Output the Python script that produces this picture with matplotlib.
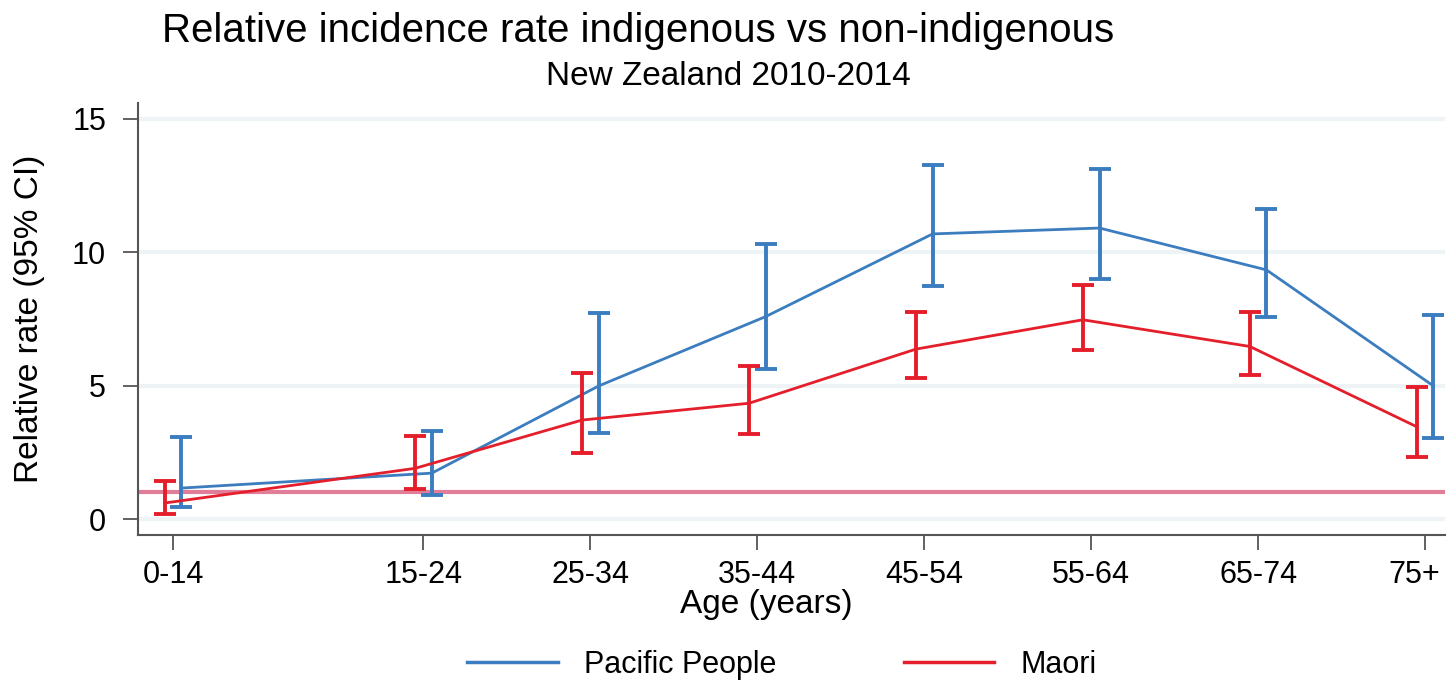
import matplotlib
matplotlib.use('Agg')
import matplotlib.pyplot as plt
import matplotlib.transforms as mtransforms
from matplotlib.lines import Line2D
import numpy as np

plt.rcParams['font.family'] = ['Liberation Sans', 'DejaVu Sans']

# age groups and their positions on the x axis (0-14 band is wider)
age_groups = ['0-14', '15-24', '25-34', '35-44', '45-54', '55-64', '65-74', '75+']
age_pos = [0, 1.5, 2.5, 3.5, 4.5, 5.5, 6.5, 7.5]

# Pacific People: relative rate and 95% CI
pac_rr = [1.16, 1.72, 4.99, 7.59, 10.69, 10.91, 9.34, 4.99]
pac_lo = [0.46, 0.90, 3.21, 5.63, 8.72, 8.99, 7.57, 3.03]
pac_hi = [3.09, 3.31, 7.74, 10.31, 13.28, 13.12, 11.62, 7.65]

# Maori: relative rate and 95% CI
mao_rr = [0.60, 1.90, 3.71, 4.34, 6.37, 7.47, 6.47, 3.46]
mao_lo = [0.19, 1.12, 2.49, 3.19, 5.28, 6.34, 5.40, 2.31]
mao_hi = [1.44, 3.13, 5.47, 5.75, 7.78, 8.78, 7.78, 4.94]

blue = '#3b7dbf'
red = '#e41f2b'
pink = '#e07d98'

fig = plt.figure(figsize=(14.48, 6.86), dpi=100)
ax = fig.add_axes([0.0953, 0.2201, 0.9027, 0.6298])

x = np.array(age_pos)
dodge = 0.05

# light horizontal grid
for yv in [0, 5, 10, 15]:
    ax.axhline(yv, color='#eef4f5', lw=3, zorder=0)

# reference line at 1
ax.axhline(1, color=pink, lw=3, zorder=1)

pac_rr = np.array(pac_rr)
mao_rr = np.array(mao_rr)
ax.errorbar(x + dodge, pac_rr,
            yerr=[pac_rr - np.array(pac_lo), np.array(pac_hi) - pac_rr],
            color=blue, lw=2, elinewidth=2.8, capsize=8, capthick=2.8,
            label='Pacific People', zorder=3)
ax.errorbar(x - dodge, mao_rr,
            yerr=[mao_rr - np.array(mao_lo), np.array(mao_hi) - mao_rr],
            color=red, lw=2, elinewidth=2.8, capsize=8, capthick=2.8,
            label='Maori', zorder=4)

ax.set_xlim(-0.21, 7.62)
ax.set_ylim(-0.6, 15.6)
ax.set_xticks(age_pos)
ax.set_xticklabels(age_groups)
ax.set_yticks([0, 5, 10, 15])

for side in ['top', 'right']:
    ax.spines[side].set_visible(False)
for side in ['left', 'bottom']:
    ax.spines[side].set_color('#555555')
    ax.spines[side].set_linewidth(1.5)

ax.tick_params(axis='both', colors='#555555', labelcolor='black',
               labelsize=22, length=11, width=1.3)
ax.tick_params(axis='y', pad=12)
ax.tick_params(axis='x', pad=7)

# last label sits inside the figure edge
last = ax.get_xticklabels()[-1]
last.set_transform(last.get_transform() +
                   mtransforms.ScaledTranslation(-0.11, 0, fig.dpi_scale_trans))

ax.set_xlabel('Age (years)', fontsize=24)
ax.xaxis.set_label_coords(0.481, -0.125)
ax.set_ylabel('Relative rate (95% CI)', fontsize=24)
ax.yaxis.set_label_coords(-0.071, 0.5)

fig.text(0.441, 0.955, 'Relative incidence rate indigenous vs non-indigenous',
         ha='center', va='center', fontsize=29)
fig.text(0.503, 0.889, 'New Zealand 2010-2014', ha='center', va='center',
         fontsize=24)

labels = ['Pacific People', 'Maori']
handles = [Line2D([], [], color=blue, lw=2.5), Line2D([], [], color=red, lw=2.5)]
fig.legend(handles, labels, loc='center', bbox_to_anchor=(0.54, 0.031), ncol=2,
           frameon=False, fontsize=22, handlelength=2.95, handletextpad=0.85,
           columnspacing=4.2)

fig.savefig('out.png', dpi=100)
